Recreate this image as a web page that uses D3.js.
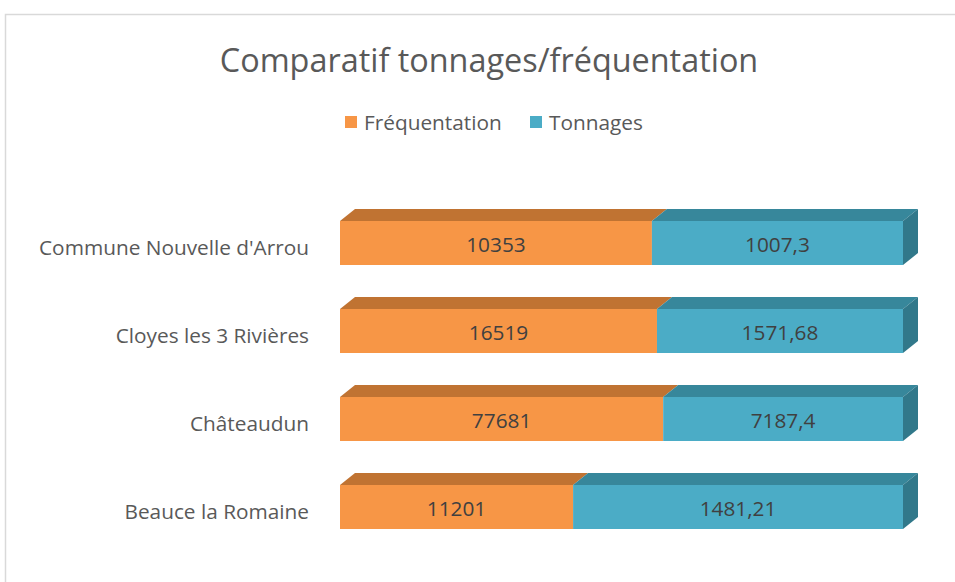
<!DOCTYPE html>
<html><head><meta charset="utf-8">
<script src="https://cdn.jsdelivr.net/npm/d3@7"></script>
<style>
html,body{margin:0;padding:0;background:#fff;}
text{font-family:"Open Sans","Noto Sans",sans-serif;}
</style></head>
<body><svg id="c" width="955" height="582"></svg>
<script>
const categories = ["Commune Nouvelle d'Arrou","Cloyes les 3 Rivières","Châteaudun","Beauce la Romaine"];
const seriesNames = ["Fréquentation","Tonnages"];
const frequentation = [10353, 16519, 77681, 11201];
const tonnages = [1007.3, 1571.68, 7187.4, 1481.21];
const frequentationLabels = ["10353","16519","77681","11201"];
const tonnagesLabels = ["1007,3","1571,68","7187,4","1481,21"];
// bar shares (percent of bar length)
const frequentationPct = [55.4, 56.3, 57.4, 41.4];
const tonnagesPct = [44.6, 43.7, 42.6, 58.6];

const colors = {front:["#F79646","#4BACC6"], top:["#C07332","#37879B"], side:["#B46A2C","#31788A"]};

const svg = d3.select("#c");
svg.append("rect").attr("x",5.5).attr("y",14.5).attr("width",1000).attr("height",1000)
  .attr("fill","#fff").attr("stroke","#d9d9d9").attr("stroke-width",1.5);

svg.append("text").attr("x",489).attr("y",72).attr("text-anchor","middle")
  .attr("font-size",32.4).attr("fill","#595959").text("Comparatif tonnages/fréquentation");

// legend
const leg = [{x:345,name:seriesNames[0],c:colors.front[0]},{x:530,name:seriesNames[1],c:colors.front[1]}];
leg.forEach(l=>{
  svg.append("rect").attr("x",l.x).attr("y",116).attr("width",12).attr("height",12).attr("fill",l.c);
  svg.append("text").attr("x",l.x+19).attr("y",130).attr("font-size",20.8).attr("fill","#595959").text(l.name);
});

const x = d3.scaleLinear().domain([0,100]).range([340,903]);
const y = d3.scaleBand().domain(categories).range([199,551]).paddingInner(0.5).paddingOuter(0.25);
const dx = 15, dy = 12;

const data = categories.map((c,i)=>({cat:c, segs:[
  {s:0, v0:0, v1:frequentationPct[i], label:frequentationLabels[i]},
  {s:1, v0:frequentationPct[i], v1:frequentationPct[i]+tonnagesPct[i], label:tonnagesLabels[i]}
]}));

const g = svg.append("g");
data.forEach(d=>{
  const y0 = y(d.cat), h = y.bandwidth();
  d.segs.forEach(s=>{
    const xa = x(s.v0), xb = x(s.v1);
    g.append("path").attr("d",`M${xa},${y0}L${xa+dx},${y0-dy}L${xb+dx},${y0-dy}L${xb},${y0}Z`)
      .attr("fill",colors.top[s.s]);
  });
  d.segs.forEach(s=>{
    const xa = x(s.v0), xb = x(s.v1);
    g.append("rect").attr("x",xa).attr("y",y0).attr("width",xb-xa).attr("height",h).attr("fill",colors.front[s.s]);
    g.append("text").attr("x",(xa+xb)/2).attr("y",y0+h/2+9).attr("text-anchor","middle")
      .attr("font-size",20.8).attr("fill","#404040").text(s.label);
  });
  const last = d.segs[1], xe = x(last.v1);
  g.append("path").attr("d",`M${xe},${y0}L${xe+dx},${y0-dy}L${xe+dx},${y0+h-dy}L${xe},${y0+h}Z`)
    .attr("fill",colors.side[1]);
  svg.append("text").attr("x",309).attr("y",y0+h/2+12).attr("text-anchor","end")
    .attr("font-size",20.8).attr("fill","#595959").text(d.cat);
});
</script></body></html>
